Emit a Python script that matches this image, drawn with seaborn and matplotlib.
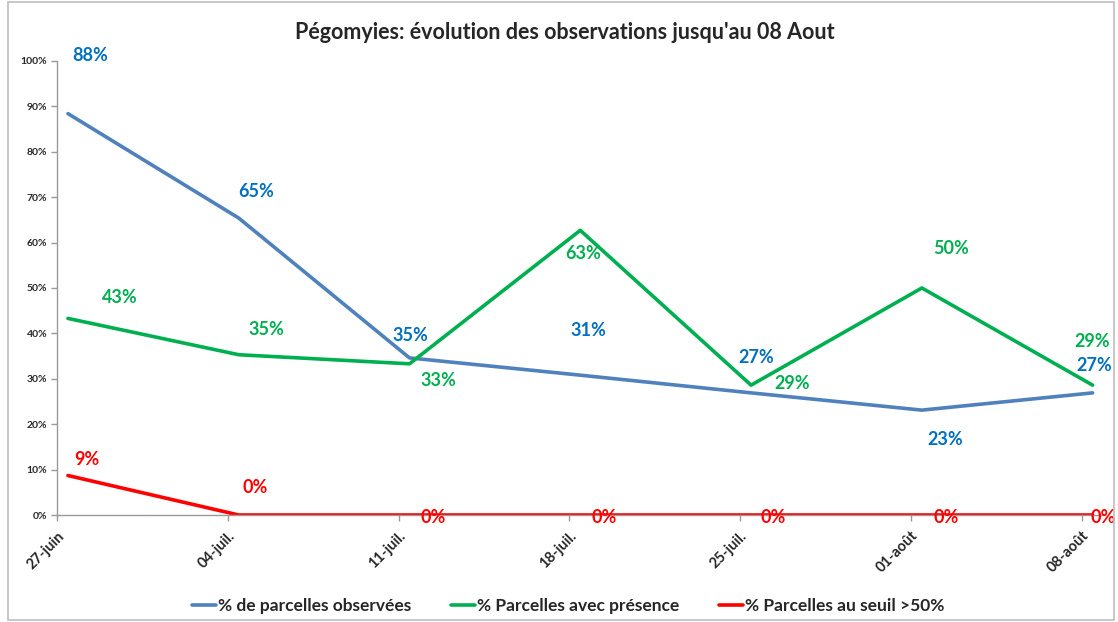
import matplotlib
matplotlib.use("Agg")
import matplotlib.pyplot as plt
import seaborn as sns
import numpy as np
import pandas as pd
from matplotlib.patches import Rectangle

dates = ["27-juin", "04-juil.", "11-juil.", "18-juil.", "25-juil.", "01-août", "08-août"]
observees = [0.884, 0.654, 0.346, 0.308, 0.269, 0.231, 0.269]
presence = [0.433, 0.353, 0.333, 0.627, 0.286, 0.500, 0.286]
seuil = [0.087, 0.0, 0.0, 0.0, 0.0, 0.0, 0.0]

noms = ["% de parcelles observées", "% Parcelles avec présence", "% Parcelles au seuil >50%"]
couleurs_ligne = ["#4F81BD", "#00B050", "#FF0000"]
couleurs_texte = ["#0070C0", "#00B050", "#FF0000"]

# decalages des etiquettes (pixels)
dec_obs = [(22, 58), (17, 27), (1, 22), (8, 45), (5, 35), (23, -29), (2, 27)]
dec_pres = [(52, 21), (28, 25), (29, -17), (3, -23), (41, 2), (29, 39), (0, 44)]
dec_seuil = [(19, 16), (16, 28), (24, -2), (24, -2), (22, -2), (24, -2), (11, -2)]

sns.set_theme(style="white")
plt.rcParams["font.family"] = ["Lato", "DejaVu Sans"]
plt.rcParams["font.weight"] = "bold"

x = np.arange(len(dates))
df = pd.DataFrame({
    "x": np.tile(x, 3),
    "valeur": observees + presence + seuil,
    "serie": np.repeat(noms, len(dates)),
})

fig = plt.figure(figsize=(11.18, 6.22), dpi=100)
ax = fig.add_axes([0.051, 0.172, 0.937, 0.730])

sns.lineplot(data=df, x="x", y="valeur", hue="serie", palette=couleurs_ligne,
             linewidth=2.6, ax=ax, legend=True, sort=False)

for vals, decs, col in zip([observees, presence, seuil], [dec_obs, dec_pres, dec_seuil], couleurs_texte):
    for xi, v, (dx, dy) in zip(x, vals, decs):
        ax.annotate(f"{int(v * 100 + 0.5)}%", (xi, v), xytext=(dx, dy),
                    textcoords="offset pixels", ha="center", va="center",
                    color=col, fontsize=13, fontweight="bold")

ax.set_xlim(-0.064, 6.07)
ax.set_ylim(0, 1)
ax.set_yticks(np.arange(0, 1.01, 0.1))
ax.set_yticklabels([f"{int(round(t * 100))}%" for t in np.arange(0, 1.01, 0.1)],
                   fontsize=7.5, fontweight="bold")
ax.set_xticks(x - 0.064)
ax.set_xticklabels(dates, rotation=45, ha="right", rotation_mode="anchor",
                   fontsize=10.5, fontweight="bold")
ax.tick_params(axis="both", direction="out", length=4, color="#999999", width=1,
               left=True, bottom=True, pad=3)
ax.tick_params(axis="x", pad=6)
ax.set_xlabel("")
ax.set_ylabel("")
for s in ["top", "right"]:
    ax.spines[s].set_visible(False)
for s in ["left", "bottom"]:
    ax.spines[s].set_color("#999999")
    ax.spines[s].set_linewidth(1)

handles, labels = ax.get_legend_handles_labels()
ax.legend(handles, labels, loc="center", bbox_to_anchor=(0.508, 0.025),
          bbox_transform=fig.transFigure, ncol=3, frameon=False,
          prop={"size": 12.5, "weight": "bold"}, handlelength=1.4,
          handletextpad=0.1, columnspacing=2.3)

fig.text(0.505, 0.948, "Pégomyies: évolution des observations jusqu'au 08 Aout",
         ha="center", va="center", fontsize=15.5, fontweight="bold")

fig.patches.append(Rectangle((0.007, 0.003), 0.989, 0.994, transform=fig.transFigure,
                             fill=False, edgecolor="#BFBFBF", linewidth=1.2))

fig.savefig("out.png", dpi=100)
